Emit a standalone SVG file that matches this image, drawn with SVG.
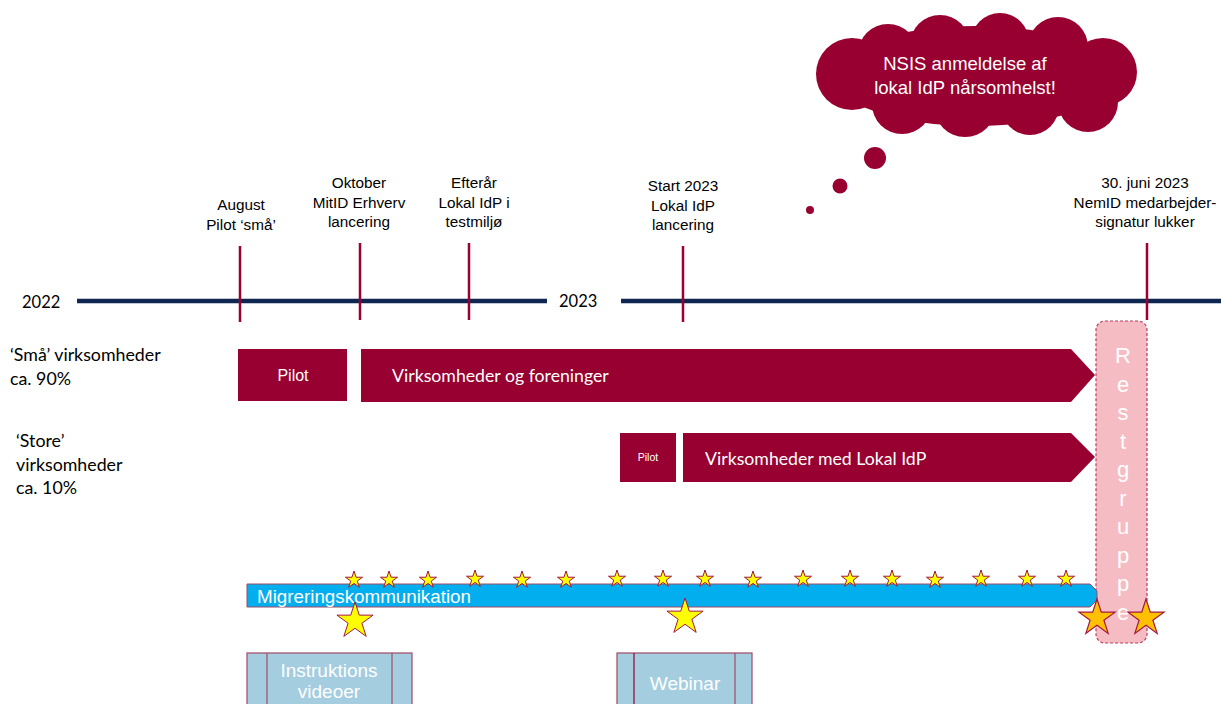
<svg xmlns="http://www.w3.org/2000/svg" xmlns:xlink="http://www.w3.org/1999/xlink" width="1221" height="704" viewBox="0 0 1221 704">
<style>
.t{font-family:"Liberation Sans",Arial,sans-serif;fill:#000;font-size:15.3px;text-anchor:middle}
.c{font-family:Lato,"Liberation Sans",sans-serif;fill:#000;font-size:17.8px}
.w{font-family:"Liberation Sans",Arial,sans-serif;fill:#fff}
.wc{font-family:Lato,"Liberation Sans",sans-serif;fill:#fff}
.crim{fill:#970030}
.tick{stroke:#970030;stroke-width:2.5}
.axis{stroke:#0f2750;stroke-width:4.5;fill:none}
.ys{fill:#ffff00;stroke:#a3173f;stroke-width:1}
.os{fill:#ffc000;stroke:#a3173f;stroke-width:1.2}
.media{fill:#a5cde0;stroke:#a04a66;stroke-width:1.2}
.rl{font-family:"Liberation Sans",Arial,sans-serif;fill:#fff;font-size:22px;text-anchor:middle}
</style>
<defs>
<polygon id="ss" points="0,-9 2.02,-2.78 8.56,-2.78 3.27,1.06 5.29,7.28 0,3.44 -5.29,7.28 -3.27,1.06 -8.56,-2.78 -2.02,-2.78"/>
<polygon id="bs" points="0,-19 4.27,-5.87 18.07,-5.87 6.9,2.24 11.17,15.37 0,7.26 -11.17,15.37 -6.9,2.24 -18.07,-5.87 -4.27,-5.87"/>
</defs>

<g id="timeline">
<line class="axis" x1="77" y1="301" x2="547" y2="301"/>
<line class="axis" x1="621" y1="301" x2="1221" y2="301"/>
<text x="22" y="308" font-family="Lato,'Liberation Sans',sans-serif" font-size="16.5">2022</text>
<text x="559" y="307" font-family="Lato,'Liberation Sans',sans-serif" font-size="16.5">2023</text>
</g>

<g id="milestone-august">
<line class="tick" x1="240" y1="246" x2="240" y2="322"/>
<text class="t" x="241" y="210">August</text>
<text class="t" x="241" y="230">Pilot ‘små’</text>
</g>
<g id="milestone-oktober">
<line class="tick" x1="360" y1="243" x2="360" y2="320"/>
<text class="t" x="359" y="188">Oktober</text>
<text class="t" x="359" y="208">MitID Erhverv</text>
<text class="t" x="359" y="227">lancering</text>
</g>
<g id="milestone-efteraar">
<line class="tick" x1="469" y1="243" x2="469" y2="320"/>
<text class="t" x="474" y="188">Efterår</text>
<text class="t" x="474" y="208">Lokal IdP i</text>
<text class="t" x="474" y="227">testmiljø</text>
</g>
<g id="milestone-start2023">
<line class="tick" x1="683" y1="246" x2="683" y2="322"/>
<text class="t" x="683" y="191">Start 2023</text>
<text class="t" x="683" y="211">Lokal IdP</text>
<text class="t" x="683" y="230">lancering</text>
</g>
<g id="milestone-juni">
<line class="tick" x1="1147" y1="243" x2="1147" y2="320"/>
<text class="t" x="1145" y="188">30. juni 2023</text>
<text class="t" x="1145" y="208">NemID medarbejder-</text>
<text class="t" x="1145" y="227">signatur lukker</text>
</g>

<g id="cloud">
<g class="crim">
<ellipse cx="975" cy="76" rx="142" ry="50"/>
<circle cx="852" cy="74" r="36"/>
<circle cx="888" cy="54" r="30"/>
<circle cx="940" cy="45" r="30"/>
<circle cx="1000" cy="42" r="29"/>
<circle cx="1058" cy="47" r="30"/>
<circle cx="1103" cy="72" r="34"/>
<circle cx="1088" cy="102" r="30"/>
<circle cx="1030" cy="106" r="29"/>
<circle cx="965" cy="106" r="31"/>
<circle cx="902" cy="104" r="30"/>
<circle cx="875" cy="158" r="11"/>
<circle cx="840" cy="186" r="7.5"/>
<circle cx="810" cy="210" r="4"/>
</g>
<text class="w" x="965" y="70" font-size="18.5" text-anchor="middle">NSIS anmeldelse af</text>
<text class="w" x="965" y="94" font-size="18.5" text-anchor="middle">lokal IdP nårsomhelst!</text>
</g>

<g id="label-smaa">
<text class="c" x="10" y="361">‘Små’ virksomheder</text>
<text class="c" x="10" y="385">ca. 90%</text>
</g>
<g id="label-store">
<text class="c" x="16" y="447">‘Store’</text>
<text class="c" x="16" y="471">virksomheder</text>
<text class="c" x="16" y="494">ca. 10%</text>
</g>

<g id="restgruppe">
<rect x="1096" y="321" width="51" height="322" rx="9" fill="#f6bcc3" stroke="#b83d5e" stroke-width="1.2" stroke-dasharray="3,2"/>
<text class="rl" x="1123" y="363">R</text>
<text class="rl" x="1123" y="392">e</text>
<text class="rl" x="1123" y="420">s</text>
<text class="rl" x="1123" y="449">t</text>
<text class="rl" x="1123" y="477">g</text>
<text class="rl" x="1123" y="506">r</text>
<text class="rl" x="1123" y="534">u</text>
<text class="rl" x="1123" y="563">p</text>
<text class="rl" x="1123" y="591">p</text>
<text class="rl" x="1123" y="620">e</text>
</g>

<g id="pilot-smaa">
<rect class="crim" x="238" y="349" width="109" height="52"/>
<text class="w" x="293" y="381" font-size="16" text-anchor="middle">Pilot</text>
</g>
<g id="virksomheder-foreninger">
<polygon class="crim" points="361,349 1071,349 1095,375 1071,402 361,402"/>
<text class="wc" x="392" y="382" font-size="17.7">Virksomheder og foreninger</text>
</g>
<g id="pilot-store">
<rect class="crim" x="620" y="433" width="56" height="49"/>
<text class="w" x="648" y="461" font-size="10.5" text-anchor="middle">Pilot</text>
</g>
<g id="virksomheder-lokal-idp">
<polygon class="crim" points="683,433 1071,433 1095,457 1071,482 683,482"/>
<text class="wc" x="705" y="465" font-size="17.7">Virksomheder med Lokal IdP</text>
</g>

<g id="migrering">
<polygon points="247,584 1090,584 1097,591 1097,600 1090,607 247,607" fill="#03aeef" stroke="#a04a66" stroke-width="1"/>
<text class="w" x="257" y="603" font-size="18.8">Migreringskommunikation</text>
</g>

<g id="stars">
<use href="#ss" class="ys" x="354" y="580"/>
<use href="#ss" class="ys" x="389" y="580"/>
<use href="#ss" class="ys" x="428" y="580"/>
<use href="#ss" class="ys" x="475" y="579"/>
<use href="#ss" class="ys" x="522" y="580"/>
<use href="#ss" class="ys" x="566" y="580"/>
<use href="#ss" class="ys" x="617" y="579"/>
<use href="#ss" class="ys" x="663" y="579"/>
<use href="#ss" class="ys" x="705" y="579"/>
<use href="#ss" class="ys" x="753" y="580"/>
<use href="#ss" class="ys" x="803" y="579"/>
<use href="#ss" class="ys" x="850" y="579"/>
<use href="#ss" class="ys" x="892" y="579"/>
<use href="#ss" class="ys" x="935" y="580"/>
<use href="#ss" class="ys" x="981" y="579"/>
<use href="#ss" class="ys" x="1027" y="579"/>
<use href="#ss" class="ys" x="1066" y="579"/>
<use href="#bs" class="ys" x="355" y="621"/>
<use href="#bs" class="ys" x="685" y="617"/>
<use href="#bs" class="os" x="1097" y="618"/>
<use href="#bs" class="os" x="1146" y="618"/>
</g>

<g id="instruktionsvideoer">
<rect class="media" x="247" y="653" width="165" height="60"/>
<line x1="267" y1="653" x2="267" y2="704" stroke="#a04a66" stroke-width="1.2"/>
<line x1="392" y1="653" x2="392" y2="704" stroke="#a04a66" stroke-width="1.2"/>
<text class="w" x="329" y="677" font-size="19" text-anchor="middle">Instruktions</text>
<text class="w" x="329" y="698" font-size="19" text-anchor="middle">videoer</text>
</g>
<g id="webinar">
<rect class="media" x="617" y="653" width="135" height="60"/>
<line x1="634" y1="653" x2="634" y2="704" stroke="#970030" stroke-width="1.2"/>
<line x1="735" y1="653" x2="735" y2="704" stroke="#a04a66" stroke-width="1.2"/>
<text class="w" x="685" y="690" font-size="19" text-anchor="middle">Webinar</text>
</g>
</svg>
